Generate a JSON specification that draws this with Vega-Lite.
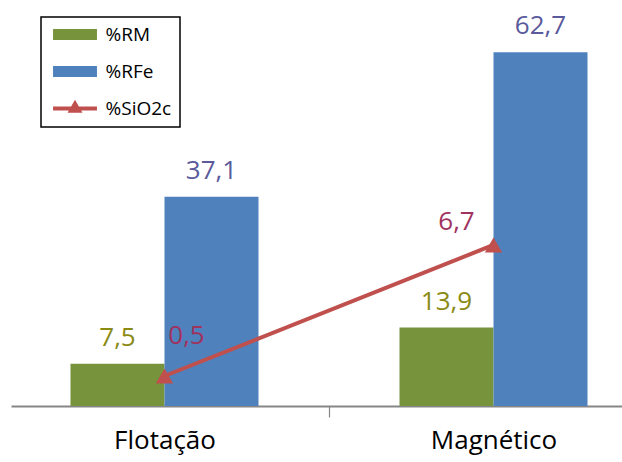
{
  "$schema": "https://vega.github.io/schema/vega-lite/v6.json",
  "width": 622,
  "height": 395,
  "autosize": {"type": "none"},
  "padding": {"top": 11, "left": 0, "right": 0, "bottom": 56},
  "config": {
    "view": {"stroke": null},
    "font": "Open Sans",
    "locale": {"number": {"decimal": ",", "thousands": ".", "grouping": [3], "currency": ["", ""]}}
  },
  "datasets": {
    "barras": [
      {"grupo": "Flotação", "serie": "%RM", "valor": 7.5},
      {"grupo": "Flotação", "serie": "%RFe", "valor": 37.1},
      {"grupo": "Magnético", "serie": "%RM", "valor": 13.9},
      {"grupo": "Magnético", "serie": "%RFe", "valor": 62.7}
    ],
    "silica": [
      {"grupo": "Flotação", "serie": "%SiO2c", "valor": 0.5},
      {"grupo": "Magnético", "serie": "%SiO2c", "valor": 6.7}
    ]
  },
  "layer": [
    {
      "data": {"name": "barras"},
      "encoding": {
        "x": {
          "field": "grupo", "type": "nominal", "sort": ["Flotação", "Magnético"],
          "scale": {"range": [0, 658], "paddingInner": 0, "paddingOuter": 0},
          "axis": {
            "title": null, "labelAngle": 0, "labelFontSize": 26, "labelColor": "#000000",
            "labelPadding": 10, "domainColor": "#868686", "domainWidth": 1.8,
            "domainDash": [0, 11, 1000],
            "ticks": true, "tickBand": "extent", "tickColor": "#868686", "tickSize": 11, "tickWidth": 1.2,
            "tickOpacity": {"condition": {"test": "datum.extra", "value": 0}, "value": 1}
          }
        },
        "xOffset": {
          "field": "serie", "type": "nominal", "sort": ["%RM", "%RFe"],
          "scale": {"paddingInner": 0, "paddingOuter": 0.75}
        },
        "y": {"field": "valor", "type": "quantitative", "scale": {"domain": [0, 70]}, "axis": null}
      },
      "layer": [
        {
          "mark": {"type": "bar"},
          "encoding": {
            "color": {
              "field": "serie", "type": "nominal",
              "scale": {"domain": ["%RM", "%RFe", "%SiO2c"], "range": ["#77933C", "#4F81BD", "#C0504D"]},
              "legend": {
                "title": null, "orient": "none", "legendX": 41, "legendY": 6,
                "direction": "vertical",
                "symbolSize": 324, "symbolStrokeWidth": 0, "symbolOpacity": 1, "symbolOffset": 16.5,
                "labelFontSize": 19, "labelColor": "#000000", "labelOffset": 21, "labelBaseline": "middle",
                "rowPadding": 17, "padding": 8,
                "strokeColor": "#000000",
                "encode": {
                  "legend": {"update": {"strokeWidth": {"value": 1.5}}},
                  "symbols": {
                    "update": {
                      "shape": {"signal": "datum.value === '%SiO2c' ? 'M-2.44,-0.22H2.44V0.22H-2.44Z M-0.83,0.48L0,-0.97L0.83,0.48Z' : 'M-2.44,-0.61H2.44V0.61H-2.44Z'"},
                      "fill": {"signal": "datum.value === '%RM' ? '#77933C' : datum.value === '%RFe' ? '#4F81BD' : '#C0504D'"},
                      "stroke": {"value": "transparent"},
                      "opacity": {"value": 1}
                    }
                  }
                }
              }
            }
          }
        },
        {
          "mark": {"type": "text", "baseline": "alphabetic", "dy": -18, "fontSize": 26},
          "encoding": {
            "text": {"field": "valor", "type": "quantitative", "format": ".1f"},
            "fill": {
              "field": "serie", "type": "nominal",
              "scale": {"domain": ["%RM", "%RFe"], "range": ["#8A8A14", "#5A5A9C"]},
              "legend": null
            }
          }
        }
      ]
    },
    {
      "data": {"name": "silica"},
      "encoding": {
        "x": {"field": "grupo", "type": "nominal", "sort": ["Flotação", "Magnético"]},
        "y": {"field": "valor", "type": "quantitative", "scale": {"domain": [-0.92, 17.77]}, "axis": null}
      },
      "layer": [
        {
          "mark": {
            "type": "line", "strokeWidth": 4,
            "point": {"shape": "triangle-up", "size": 300, "filled": true, "fill": "#C0504D", "opacity": 1}
          },
          "encoding": {"color": {"field": "serie", "type": "nominal"}}
        },
        {
          "transform": [{"filter": "datum.grupo === 'Flotação'"}],
          "mark": {"type": "text", "baseline": "alphabetic", "dx": 22, "dy": -32, "fontSize": 26, "fill": "#A0325E"},
          "encoding": {"text": {"field": "valor", "type": "quantitative", "format": ".1f"}}
        },
        {
          "transform": [{"filter": "datum.grupo === 'Magnético'"}],
          "mark": {"type": "text", "baseline": "alphabetic", "dx": -37, "dy": -15, "fontSize": 26, "fill": "#A0325E"},
          "encoding": {"text": {"field": "valor", "type": "quantitative", "format": ".1f"}}
        }
      ]
    }
  ],
  "resolve": {"scale": {"y": "independent"}}
}
